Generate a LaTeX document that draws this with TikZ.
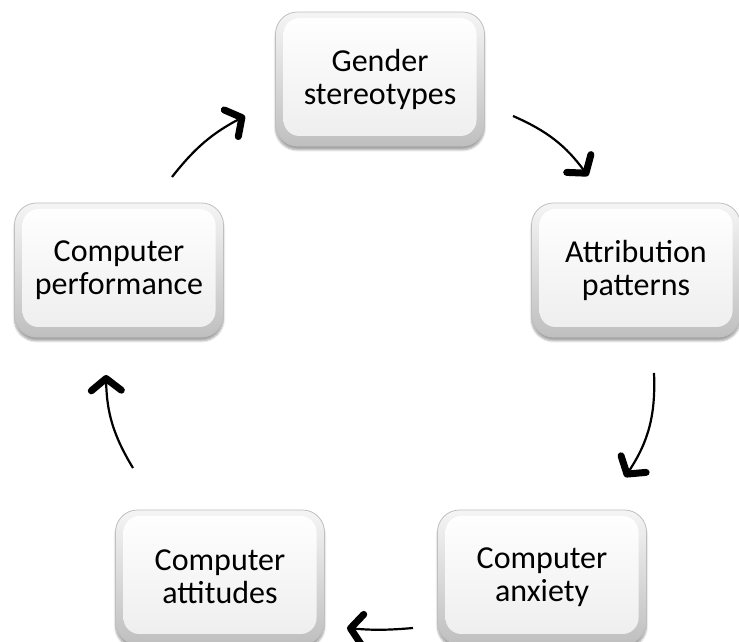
\documentclass[tikz,border=0pt]{standalone}
\usepackage{fontspec}
\setmainfont{Carlito}
\usetikzlibrary{arrows.meta,shadows.blur,calc}
\begin{document}
\begin{tikzpicture}[x=1pt,y=1pt,
  btn/.style={rounded corners=22pt, minimum width=209pt, minimum height=134pt,
    draw=gray!50, line width=0.8pt, top color=gray!8, bottom color=gray!50,
    align=center, font=\fontsize{32}{33}\selectfont, text=black,
    blur shadow={shadow xshift=0pt, shadow yshift=-4pt, shadow opacity=35, shadow blur steps=6},
    path picture={\shade[rounded corners=16pt, top color=white, bottom color=gray!14]
      ($(path picture bounding box.south west)+(8,10)$) rectangle
      ($(path picture bounding box.north east)+(-8,-6)$);}},
  arr/.style={line width=2.2pt, -{Straight Barb[length=12pt,width=30pt,line width=7pt,round]}}]
\useasboundingbox (0,0) rectangle (739,642);
\node[btn] (gender) at (380,563) {Gender\\stereotypes};
\node[btn] (attr) at (636,372) {Attribution\\patterns};
\node[btn] (perf) at (119,372) {Computer\\performance};
\node[btn] (anx) at (542,65) {Computer\\anxiety};
\node[btn] (att) at (220,65) {Computer\\attitudes};
\coordinate (a1s) at (513,526); \coordinate (a1e) at (588,466);
\coordinate (a2s) at (654,269); \coordinate (a2e) at (625,165);
\coordinate (a3s) at (413,14);  \coordinate (a3e) at (347,14);
\coordinate (a4s) at (133,174); \coordinate (a4e) at (106,267);
\coordinate (a5s) at (172,465); \coordinate (a5e) at (245,526);
\draw[arr] (a1s) to[bend left=15] (a1e);
\draw[arr] (a2s) to[bend left=18] (a2e);
\draw[arr] (a3s) to[bend left=5] (a3e);
\draw[arr] (a4s) to[bend left=15] (a4e);
\draw[arr] (a5s) to[bend left=12] (a5e);
\end{tikzpicture}
\end{document}
